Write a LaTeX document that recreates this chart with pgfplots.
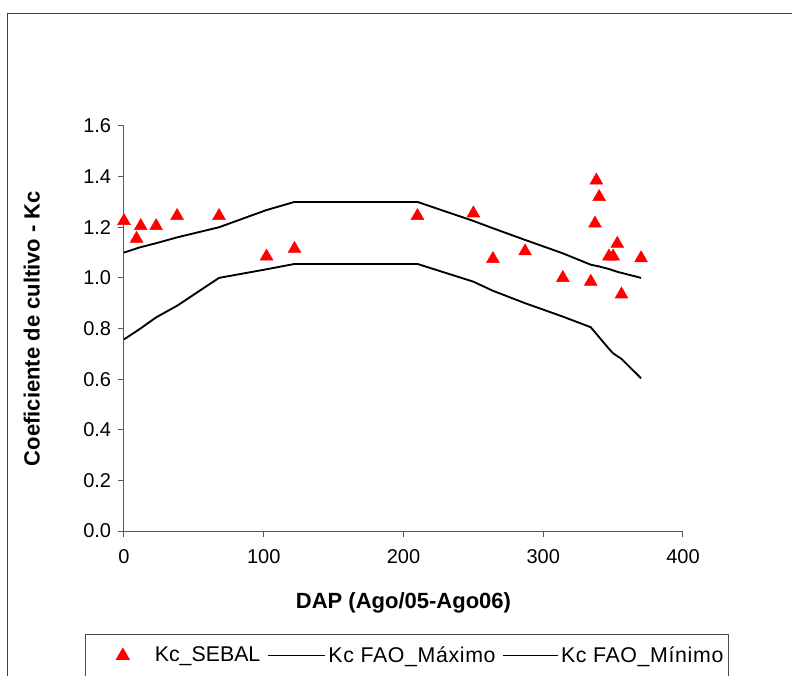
\documentclass[border=0pt]{standalone}
\usepackage{fontspec}
\setmainfont{Liberation Sans}
\newfontfamily\legwide[LetterSpace=3]{Liberation Sans}
\usepackage{pgfplots}
\pgfplotsset{compat=1.18}
\begin{document}
\fontsize{15}{18}\selectfont
\begin{tikzpicture}
\begin{axis}[
  scale only axis,
  width=419.25pt, height=303.75pt,
  xmin=0, xmax=400, ymin=0, ymax=1.6,
  axis x line*=bottom, axis y line*=left,
  axis line style={black!65, line width=0.75pt},
  xtick={0,100,200,300,400},
  ytick={0,0.2,0.4,0.6,0.8,1.0,1.2,1.4,1.6},
  tick align=outside,
  major tick length=4.5pt,
  tick style={black!65, line width=0.75pt},
  /pgf/number format/assume math mode=true,
  yticklabel style={/pgf/number format/.cd, fixed, fixed zerofill, precision=1},
  xticklabel style={yshift=-4pt},
  ticklabel style={font=\fontsize{15}{18}\selectfont},
  xlabel={\bfseries DAP (Ago/05-Ago06)},
  ylabel={\bfseries Coeficiente de cultivo - Kc},
  every axis x label/.style={at={(axis description cs:0.5,-0.178)}, anchor=center},
  every axis y label/.style={at={(axis description cs:-0.165,0.5)}, rotate=90, anchor=center},
  label style={font=\fontsize{16.5}{19}\selectfont},
  legend columns=3,
  legend style={at={(axis description cs:-0.0698,-0.254)}, anchor=north west,
    draw=black!70, line width=0.75pt, font=\fontsize{16}{19}\selectfont,
    inner ysep=7pt, inner xsep=2pt,
    /tikz/every even column/.append style={column sep=3pt}},
  legend cell align=left,
  clip=false,
]
\addplot[only marks, mark=triangle*, mark size=5.5pt, color=red, fill=red,
  legend image code/.code={\path[draw=none, fill=none] (0pt,0pt) rectangle (48pt,0.1pt);
    \draw[red] plot[only marks, mark=triangle*, mark size=5.5pt, mark options={fill=red}] coordinates {(26pt,0pt)};}] coordinates {
(0,1.225) (9,1.155) (12,1.205) (23,1.205) (38,1.245) (68,1.245)
(102,1.085) (122,1.115) (210,1.245) (250,1.255) (264,1.075) (287,1.105)
(314,1.0) (334,0.985) (337,1.215) (338,1.385) (340,1.32) (347,1.085)
(350,1.085) (353,1.135) (356,0.935) (370,1.078)
};
\addlegendentry{Kc\_SEBAL}
\addplot[black, line width=1.4pt, no marks,
  legend image code/.code={\draw[black, line width=1.1pt] (0pt,0pt) -- (43pt,0pt);}] coordinates {
(0,1.10) (11,1.12) (23,1.137) (38,1.16) (68,1.20) (102,1.268) (122,1.30)
(210,1.30) (250,1.225) (264,1.196) (287,1.15) (314,1.097) (334,1.052)
(340,1.045) (347,1.035) (353,1.024) (370,1.00)
};
\addlegendentry{\legwide Kc FAO\_Máximo}
\addplot[black, line width=1.4pt, no marks,
  legend image code/.code={\draw[black, line width=1.1pt] (0pt,0pt) -- (41pt,0pt);}] coordinates {
(0,0.757) (11,0.797) (23,0.844) (38,0.89) (68,1.00) (102,1.034) (122,1.055)
(210,1.055) (250,0.985) (264,0.949) (287,0.90) (314,0.847) (334,0.805)
(347,0.72) (350,0.702) (356,0.68) (370,0.603)
};
\addlegendentry{\legwide Kc FAO\_Mínimo}
\end{axis}
\draw[black!75, line width=0.75pt] (-87pt,-140pt) -- (-87pt,387.75pt) -- (520pt,387.75pt);
\pgfresetboundingbox
\useasboundingbox (-93pt,-108pt) rectangle (501pt,398.25pt);
\end{tikzpicture}
\end{document}
